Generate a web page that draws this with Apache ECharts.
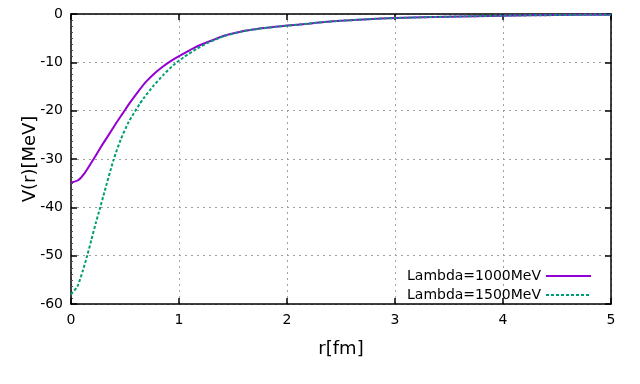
<!DOCTYPE html>
<html>
<head>
<meta charset="utf-8">
<script src="https://cdn.jsdelivr.net/npm/echarts@6/dist/echarts.min.js"></script>
<style>html,body{margin:0;padding:0;background:#fff}#c{width:640px;height:384px}</style>
</head>
<body>
<div id="c"></div>
<script>
// r [fm] and V(r) [MeV]
const seriesNames = ['Lambda=1000MeV', 'Lambda=1500MeV'];
const r1000 = [0, 0.065, 0.13, 0.204, 0.28, 0.358, 0.42, 0.481, 0.546, 0.62, 0.70, 0.78, 0.855, 0.93, 1.0, 1.07, 1.148, 1.272, 1.426, 1.58, 1.735, 1.889, 2.0, 2.198, 2.35, 2.5, 2.75, 3.0, 3.5, 4.0, 4.5, 5.0];
const v1000 = [-34.9, -34.4, -32.8, -30.2, -27.4, -24.7, -22.5, -20.5, -18.35, -16.1, -13.9, -12.15, -10.8, -9.65, -8.7, -7.85, -6.9, -5.75, -4.45, -3.6, -3.05, -2.65, -2.4, -2.0, -1.66, -1.4, -1.08, -0.83, -0.55, -0.35, -0.22, -0.14];
const r1500 = [0, 0.059, 0.111, 0.151, 0.188, 0.229, 0.272, 0.3, 0.395, 0.46, 0.528, 0.58, 0.636, 0.67, 0.762, 0.855, 0.947, 1.04, 1.164, 1.272, 1.426, 1.58, 1.735, 1.889, 2.0, 2.198, 2.35, 2.5, 2.75, 3.0, 3.5, 4.0, 4.5, 5.0];
const v1500 = [-58.0, -56.4, -53.0, -49.9, -46.8, -43.3, -39.9, -37.6, -30.1, -26.0, -22.6, -20.6, -18.6, -17.5, -14.9, -12.6, -10.6, -9.0, -7.2, -5.9, -4.5, -3.63, -3.07, -2.67, -2.41, -2.0, -1.66, -1.4, -1.08, -0.83, -0.55, -0.35, -0.22, -0.14];
const xTicks = [0, 1, 2, 3, 4, 5];
const yTicks = [-60, -50, -40, -30, -20, -10, 0];
const xTitle = 'r[fm]';
const yTitle = 'V(r)[MeV]';

const pairs = (xs, ys) => xs.map((x, i) => [x, ys[i]]);
const FONT = 'DejaVu Sans';
const chart = echarts.init(document.getElementById('c'), null, {renderer: 'canvas'});
const axisLine = {show: true, onZero: false, lineStyle: {color: '#000', width: 1.5}};
chart.setOption({
  animation: false,
  backgroundColor: '#fff',
  textStyle: {fontFamily: FONT},
  grid: {left: 71, right: 29, top: 14, bottom: 80, containLabel: false},
  legend: {
    orient: 'vertical', right: 43, top: 264, align: 'right',
    itemWidth: 45, itemHeight: 14, itemGap: 5,
    itemStyle: {opacity: 0},
    textStyle: {fontFamily: FONT, fontSize: 14, color: '#000'},
    data: seriesNames
  },
  xAxis: [{
    type: 'value', min: xTicks[0], max: xTicks[xTicks.length - 1], interval: 1,
    axisLine: axisLine,
    axisTick: {inside: true, length: 6, lineStyle: {color: '#000', width: 1.5}},
    axisLabel: {fontFamily: FONT, fontSize: 14, color: '#000', margin: 9},
    splitLine: {show: true, lineStyle: {color: '#a0a0a0', type: [2, 4], width: 1}},
    name: xTitle, nameLocation: 'middle', nameGap: 36, nameMoveOverlap: false,
    nameTextStyle: {fontFamily: FONT, fontSize: 18, color: '#000'}
  }, {
    type: 'value', position: 'top', min: xTicks[0], max: xTicks[xTicks.length - 1], interval: 1,
    axisLine: axisLine,
    axisTick: {inside: true, length: 6, lineStyle: {color: '#000', width: 1.5}},
    axisLabel: {show: false}, splitLine: {show: false}
  }],
  yAxis: [{
    type: 'value', min: yTicks[0], max: yTicks[yTicks.length - 1], interval: 10,
    axisLine: axisLine,
    axisTick: {inside: true, length: 6, lineStyle: {color: '#000', width: 1.5}},
    minorTick: {show: true, splitNumber: 8, length: 2, lineStyle: {color: '#555', width: 1}},
    axisLabel: {fontFamily: FONT, fontSize: 14, color: '#000', margin: 8},
    splitLine: {show: true, lineStyle: {color: '#a0a0a0', type: [2, 4], width: 1}},
    name: yTitle, nameLocation: 'middle', nameGap: 32, nameMoveOverlap: false,
    nameTextStyle: {fontFamily: FONT, fontSize: 18, color: '#000'}
  }, {
    type: 'value', position: 'right', min: yTicks[0], max: yTicks[yTicks.length - 1], interval: 10,
    axisLine: axisLine,
    axisTick: {inside: true, length: 6, lineStyle: {color: '#000', width: 1.5}},
    axisLabel: {show: false}, splitLine: {show: false}
  }],
  series: [{
    name: seriesNames[0], type: 'line', data: pairs(r1000, v1000),
    smooth: 0.2, symbol: 'none',
    lineStyle: {color: '#9400d3', width: 2}, itemStyle: {color: '#9400d3'}
  }, {
    name: seriesNames[1], type: 'line', data: pairs(r1500, v1500),
    smooth: 0.2, symbol: 'none',
    lineStyle: {color: '#009e73', width: 2, type: [3, 2]}, itemStyle: {color: '#009e73'}
  }]
});
</script>
</body>
</html>
